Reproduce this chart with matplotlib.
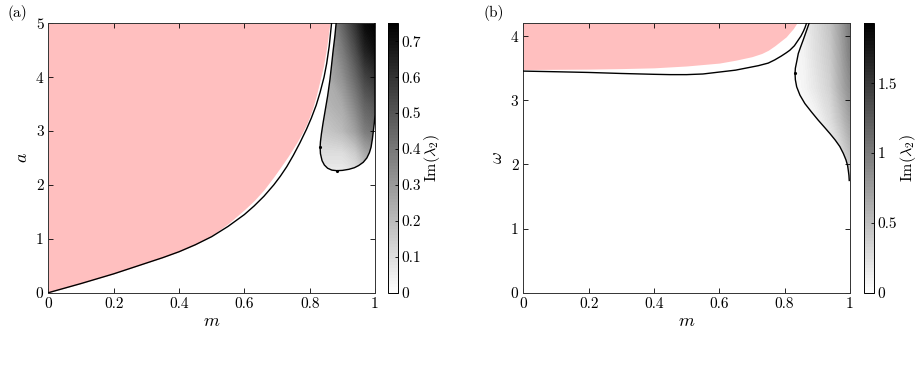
import numpy as np
import matplotlib.pyplot as plt
from matplotlib.patches import Polygon
from matplotlib.ticker import FuncFormatter

plt.rcParams['font.family'] = 'serif'
plt.rcParams['font.serif'] = ['cmr10']
plt.rcParams['mathtext.fontset'] = 'cm'
plt.rcParams['axes.formatter.use_mathtext'] = True
plt.rcParams['font.size'] = 11

PINK = '#ffbfbf'

# ---- panel (a): a against m ----
m_pink_a = [0, 0.05, 0.1, 0.15, 0.2, 0.25, 0.3, 0.35, 0.4, 0.45, 0.5, 0.55, 0.6, 0.63,
            0.66, 0.69, 0.71, 0.735, 0.76, 0.775, 0.79, 0.8, 0.81, 0.82, 0.832, 0.842,
            0.85, 0.856, 0.862]
a_pink = [0, 0.085, 0.17, 0.26, 0.35, 0.45, 0.55, 0.65, 0.76, 0.89, 1.06, 1.28, 1.54, 1.71,
          1.91, 2.15, 2.32, 2.54, 2.78, 2.94, 3.12, 3.27, 3.44, 3.65, 3.95, 4.2,
          4.48, 4.73, 5.0]

m_curve_a = [0, 0.05, 0.1, 0.15, 0.2, 0.25, 0.3, 0.35, 0.4, 0.45, 0.5, 0.55, 0.6, 0.63,
             0.66, 0.69, 0.71, 0.73, 0.75, 0.77, 0.79, 0.805, 0.82, 0.832, 0.844, 0.852,
             0.86, 0.867]
a_curve = [0, 0.085, 0.17, 0.26, 0.35, 0.45, 0.55, 0.65, 0.76, 0.89, 1.04, 1.23, 1.45, 1.61,
           1.79, 2.0, 2.16, 2.34, 2.55, 2.78, 3.03, 3.24, 3.48, 3.72, 4.0, 4.25,
           4.58, 5.0]

m_loop_a = [0.881, 0.877, 0.872, 0.867, 0.862, 0.855, 0.848, 0.841, 0.836, 0.833, 0.832,
            0.833, 0.838, 0.845, 0.855, 0.868, 0.883, 0.9, 0.92, 0.937, 0.95, 0.964,
            0.975, 0.983, 0.988, 0.992, 0.995, 0.998, 1.0, 1.0]
a_loop = [5.0, 4.75, 4.5, 4.22, 3.95, 3.65, 3.4, 3.15, 2.95, 2.8, 2.7,
          2.58, 2.45, 2.37, 2.31, 2.275, 2.265, 2.27, 2.29, 2.32, 2.36, 2.42,
          2.5, 2.6, 2.7, 2.85, 3.0, 3.15, 3.3, 5.0]
m_dots_a = [0.832, 0.883]
a_dots = [2.7, 2.265]

grid_m_a = [0.82, 0.86, 0.9, 0.94, 0.97, 1.0]
grid_a = [2.2, 2.6, 3.0, 3.5, 4.0, 4.5, 5.0]
im_a = [[0.05, 0.05, 0.05, 0.08, 0.15, 0.20],
        [0.10, 0.10, 0.10, 0.15, 0.25, 0.30],
        [0.15, 0.17, 0.20, 0.28, 0.38, 0.42],
        [0.20, 0.22, 0.25, 0.36, 0.46, 0.50],
        [0.22, 0.25, 0.32, 0.44, 0.55, 0.60],
        [0.25, 0.28, 0.38, 0.52, 0.65, 0.70],
        [0.28, 0.31, 0.45, 0.60, 0.72, 0.75]]
A_TOP = 5.0
IM_MAX_A = 0.75

# ---- panel (b): omega against m ----
m_pink_b = [0, 0.1, 0.2, 0.3, 0.4, 0.5, 0.6, 0.65, 0.7, 0.73, 0.75, 0.77, 0.79, 0.805,
            0.815, 0.827, 0.837]
w_pink = [3.48, 3.483, 3.486, 3.494, 3.506, 3.535, 3.58, 3.625, 3.68, 3.73, 3.78, 3.85,
          3.93, 3.99, 4.05, 4.12, 4.2]

m_curve_b = [0, 0.1, 0.2, 0.3, 0.4, 0.45, 0.5, 0.55, 0.6, 0.65, 0.69, 0.72, 0.75, 0.77,
             0.79, 0.805, 0.816, 0.83, 0.842, 0.85, 0.858, 0.863, 0.867]
w_curve = [3.455, 3.445, 3.434, 3.418, 3.405, 3.40, 3.40, 3.41, 3.44, 3.47, 3.51, 3.54,
           3.58, 3.63, 3.69, 3.74, 3.78, 3.85, 3.94, 4.0, 4.08, 4.14, 4.2]

m_loop_b = [0.875, 0.866, 0.857, 0.849, 0.842, 0.837, 0.833, 0.832, 0.833, 0.837, 0.847,
            0.862, 0.882, 0.903, 0.922, 0.939, 0.955, 0.969, 0.98, 0.988, 0.993, 0.995,
            0.997, 0.998]
w_loop = [4.2, 4.07, 3.94, 3.83, 3.73, 3.6, 3.5, 3.42, 3.32, 3.21, 3.08,
          2.95, 2.82, 2.69, 2.58, 2.48, 2.38, 2.28, 2.17, 2.07, 1.98, 1.91,
          1.83, 1.75]
m_dots_b = [0.832]
w_dots = [3.42]

grid_m_b = [0.82, 0.86, 0.9, 0.94, 0.97, 1.0]
grid_w = [1.7, 2.2, 2.7, 3.2, 3.7, 4.2]
im_b = [[0.00, 0.00, 0.00, 0.00, 0.10, 0.30],
        [0.00, 0.00, 0.00, 0.10, 0.25, 0.50],
        [0.00, 0.00, 0.08, 0.25, 0.45, 0.70],
        [0.00, 0.08, 0.20, 0.35, 0.60, 0.85],
        [0.02, 0.10, 0.25, 0.40, 0.65, 0.95],
        [0.05, 0.12, 0.28, 0.45, 0.70, 1.00]]
W_TOP = 4.2
IM_MAX_B = 1.93

fmt = FuncFormatter(lambda v, p: '%g' % round(v, 3))


def style_axes(ax):
    ax.tick_params(direction='in', top=True, right=True, length=3.5, width=0.6)
    ax.xaxis.set_major_formatter(fmt)
    ax.yaxis.set_major_formatter(fmt)
    for s in ax.spines.values():
        s.set_linewidth(0.7)
        s.set_color('#333333')


def draw_field(ax, gm, gy, z, vmax, m_edge, y_edge):
    cs = ax.contourf(gm, gy, np.array(z), levels=np.linspace(0, vmax, 90),
                     cmap='gray_r', vmin=0, vmax=vmax, zorder=1)
    clip = Polygon(np.column_stack([m_edge, y_edge]), closed=True,
                   transform=ax.transData)
    cs.set_clip_path(clip)
    return cs


def add_cbar(fig, cs, rect, ticks):
    cax = fig.add_axes(rect)
    cb = fig.colorbar(cs, cax=cax, ticks=ticks)
    cb.ax.yaxis.set_major_formatter(fmt)
    cb.ax.tick_params(direction='in', length=2.5, width=0.6, pad=2.5)
    cb.outline.set_linewidth(0.7)
    cb.set_label(r'$\mathrm{Im}(\lambda_2)$', fontsize=11.5, labelpad=1)
    return cb


fig = plt.figure(figsize=(9.22, 3.69), dpi=100)

# panel (a)
ax1 = fig.add_axes([0.0525, 0.2068, 0.3542, 0.730])
ax1.fill_betweenx(a_pink, 0, m_pink_a, color=PINK, lw=0, zorder=0)
cs1 = draw_field(ax1, grid_m_a, grid_a, im_a, IM_MAX_A,
                 m_loop_a + [m_loop_a[0]], a_loop + [A_TOP])
ax1.plot(m_curve_a, a_curve, color='k', lw=1.0, zorder=3)
ax1.plot(m_loop_a, a_loop, color='k', lw=1.0, zorder=3)
ax1.plot(m_dots_a, a_dots, 'k.', ms=2.5, zorder=4)
ax1.set_xlim(0, 1)
ax1.set_ylim(0, A_TOP)
ax1.set_xticks([0, 0.2, 0.4, 0.6, 0.8, 1])
ax1.set_yticks([0, 1, 2, 3, 4, 5])
style_axes(ax1)
ax1.set_xlabel(r'$m$', fontsize=13, labelpad=2)
ax1.set_ylabel(r'$a$', fontsize=13, labelpad=4)
add_cbar(fig, cs1, [0.4208, 0.2068, 0.0108, 0.730],
         [0, 0.1, 0.2, 0.3, 0.4, 0.5, 0.6, 0.7])
fig.text(0.008, 0.965, '(a)', fontsize=11, va='center')

# panel (b)
ax2 = fig.add_axes([0.5676, 0.2068, 0.3542, 0.730])
ax2.fill_between(m_pink_b, w_pink, W_TOP, color=PINK, lw=0, zorder=0)
cs2 = draw_field(ax2, grid_m_b, grid_w, im_b, IM_MAX_B,
                 m_loop_b + [1.0, 1.0], w_loop + [w_loop[-1], W_TOP])
ax2.plot(m_curve_b, w_curve, color='k', lw=1.0, zorder=3)
ax2.plot(m_loop_b, w_loop, color='k', lw=1.0, zorder=3)
ax2.plot(m_dots_b, w_dots, 'k.', ms=2.5, zorder=4)
ax2.set_xlim(0, 1)
ax2.set_ylim(0, W_TOP)
ax2.set_xticks([0, 0.2, 0.4, 0.6, 0.8, 1])
ax2.set_yticks([0, 1, 2, 3, 4])
style_axes(ax2)
ax2.set_xlabel(r'$m$', fontsize=13, labelpad=2)
ax2.set_ylabel(r'$\omega$', fontsize=13, labelpad=4)
add_cbar(fig, cs2, [0.937, 0.2068, 0.0108, 0.730], [0, 0.5, 1, 1.5])
fig.text(0.524, 0.965, '(b)', fontsize=11, va='center')

fig.savefig('out.png', dpi=100)
